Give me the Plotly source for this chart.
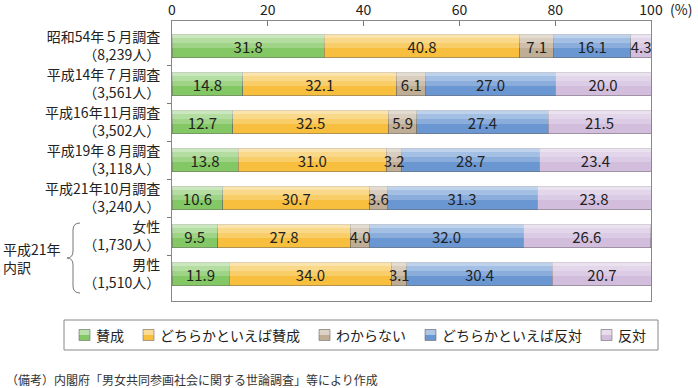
import plotly.graph_objects as go

# ---- data ----
categories = [
    "昭和54年５月調査<br>（8,239人）",
    "平成14年７月調査<br>（3,561人）",
    "平成16年11月調査<br>（3,502人）",
    "平成19年８月調査<br>（3,118人）",
    "平成21年10月調査<br>（3,240人）",
    "女性<br>（1,730人）",
    "男性<br>（1,510人）",
]
series_names = ["賛成", "どちらかといえば賛成", "わからない", "どちらかといえば反対", "反対"]
sansei = [31.8, 14.8, 12.7, 13.8, 10.6, 9.5, 11.9]
dochiraka_sansei = [40.8, 32.1, 32.5, 31.0, 30.7, 27.8, 34.0]
wakaranai = [7.1, 6.1, 5.9, 3.2, 3.6, 4.0, 3.1]
dochiraka_hantai = [16.1, 27.0, 27.4, 28.7, 31.3, 32.0, 30.4]
hantai = [4.3, 20.0, 21.5, 23.4, 23.8, 26.6, 20.7]
series_values = [sansei, dochiraka_sansei, wakaranai, dochiraka_hantai, hantai]
x_ticks = [0, 20, 40, 60, 80, 100]

# base (lower, saturated) colours; the top of each bar is lightened by overlays
colors = ["#84c866", "#f8bf3e", "#bfae95", "#6a97d2", "#d3bddd"]

FONT = "Noto Sans CJK JP"
W, H = 698, 388
L, R, T, B = 172, 47, 21, 87
PW, PH = W - L - R, H - T - B
BAR_W = 0.62
Y_RANGE = [6.71, -0.66]


def px(xp):
    return (xp - L) / PW


def py(yp):
    return (H - B - yp) / PH


ypos = list(range(len(categories)))

fig = go.Figure()
# main coloured bars
for name, vals, col in zip(series_names, series_values, colors):
    fig.add_trace(go.Bar(
        y=ypos, x=vals, name=name, orientation="h", yaxis="y",
        marker=dict(color=col, line=dict(color="rgba(100,100,100,0.6)", width=0.8)),
        width=BAR_W, showlegend=False, hoverinfo="skip",
    ))

# white highlight overlays for a vertical gradient look (top lighter)
overlays = [(0.58, 0.22), (0.36, 0.22), (0.17, 0.30)]
for k, (frac, alpha) in enumerate(overlays):
    ax = f"y{k + 2}"
    for name, vals in zip(series_names, series_values):
        fig.add_trace(go.Bar(
            y=ypos, x=vals, orientation="h", yaxis=ax,
            width=BAR_W * frac, offset=-BAR_W / 2,
            marker=dict(color=f"rgba(255,255,255,{alpha})", line=dict(width=0)),
            showlegend=False, hoverinfo="skip",
        ))

# value labels on top layer
for name, vals in zip(series_names, series_values):
    fig.add_trace(go.Bar(
        y=ypos, x=vals, orientation="h", yaxis="y5",
        width=BAR_W,
        marker=dict(color="rgba(0,0,0,0)", line=dict(width=0)),
        text=vals, texttemplate="%{x:.1f}", textposition="inside",
        insidetextanchor="middle", constraintext="none", textangle=0,
        textfont=dict(size=15, color="#222", family=FONT),
        showlegend=False, hoverinfo="skip",
    ))

hidden_y = dict(range=Y_RANGE, overlaying="y", visible=False, automargin=False)

fig.update_layout(
    width=W, height=H,
    margin=dict(l=L, r=R, t=T, b=B, pad=0, autoexpand=False),
    barmode="stack",
    paper_bgcolor="white", plot_bgcolor="white",
    font=dict(family=FONT, size=14, color="#222"),
    showlegend=False,
    xaxis=dict(
        side="top", range=[0, 100], tickvals=x_ticks, automargin=False,
        ticks="inside", ticklen=5, tickcolor="#777", tickwidth=1,
        showline=True, linecolor="#888", linewidth=1, mirror=True,
        showgrid=False, zeroline=False, ticklabelstandoff=-1,
        tickfont=dict(size=14, color="#222"),
    ),
    yaxis=dict(
        range=Y_RANGE, tickmode="array", tickvals=ypos, ticktext=categories,
        automargin=False,
        ticks="", showline=True, linecolor="#888", linewidth=1, mirror=True,
        showgrid=False, zeroline=False,
        tickfont=dict(size=14, color="#222"),
        ticklabelstandoff=8,
        minor=dict(tickmode="array", tickvals=[i + 0.5 for i in ypos[:-1]],
                   ticks="outside", ticklen=4, tickcolor="#777", showgrid=False),
    ),
    yaxis2=hidden_y, yaxis3=hidden_y, yaxis4=hidden_y, yaxis5=hidden_y,
)

# ---- manual legend (boxed row under the plot) ----
fig.add_shape(type="rect", xref="paper", yref="paper",
              x0=px(64), x1=px(658), y0=py(320), y1=py(350),
              line=dict(color="#888", width=1), fillcolor="rgba(0,0,0,0)")
SQ, GAP_T, CH, GAP_I = 11, 4, 14, 21
lx = 79
ly = 335
for name, col in zip(series_names, colors):
    fig.add_shape(type="rect", xref="paper", yref="paper",
                  x0=px(lx), x1=px(lx + SQ), y0=py(ly - SQ / 2), y1=py(ly + SQ / 2),
                  line=dict(color="rgba(100,100,100,0.7)", width=0.8), fillcolor=col)
    fig.add_shape(type="rect", xref="paper", yref="paper",
                  x0=px(lx + 0.5), x1=px(lx + SQ - 0.5), y0=py(ly - SQ / 2 + 0.5), y1=py(ly),
                  line=dict(width=0), fillcolor="rgba(255,255,255,0.45)")
    fig.add_annotation(xref="paper", yref="paper", x=px(lx + SQ + GAP_T), y=py(ly),
                       xanchor="left", yanchor="middle", showarrow=False,
                       text=name, font=dict(size=14, color="#222"))
    lx += SQ + GAP_T + CH * len(name) + GAP_I

# brace for 平成21年 内訳
pts = [("M", 80, 223), ("Q", 73, 223, 73, 230), ("L", 73, 251),
       ("Q", 73, 258, 67, 258), ("Q", 73, 258, 73, 265), ("L", 73, 286),
       ("Q", 73, 293, 80, 293)]
path = ""
for p in pts:
    cmd = p[0]
    coords = p[1:]
    seg = []
    for i in range(0, len(coords), 2):
        seg.append(f"{px(coords[i]):.5f},{py(coords[i+1]):.5f}")
    path += cmd + " " + " ".join(seg) + " "
fig.add_shape(type="path", xref="paper", yref="paper", path=path.strip(),
              line=dict(color="#777", width=1))

fig.add_annotation(xref="paper", yref="paper", x=px(1), y=py(258),
                   xanchor="left", yanchor="middle", align="left", showarrow=False,
                   text="平成21年<br>内訳", font=dict(size=14, color="#222"))
fig.add_annotation(xref="paper", yref="paper", x=px(681), y=py(9),
                   xanchor="center", yanchor="middle", showarrow=False,
                   text="(%)", font=dict(size=14, color="#222"))
fig.add_annotation(xref="paper", yref="paper", x=px(4), y=py(379),
                   xanchor="left", yanchor="middle", showarrow=False,
                   text="（備考）内閣府「男女共同参画社会に関する世論調査」等により作成",
                   font=dict(size=12, color="#333"))

fig.write_html(
    "out.html",
    config={"displayModeBar": False},
    post_script="document.body.style.margin='0';document.body.style.padding='0';"
                "document.documentElement.style.overflow='hidden';",
)
